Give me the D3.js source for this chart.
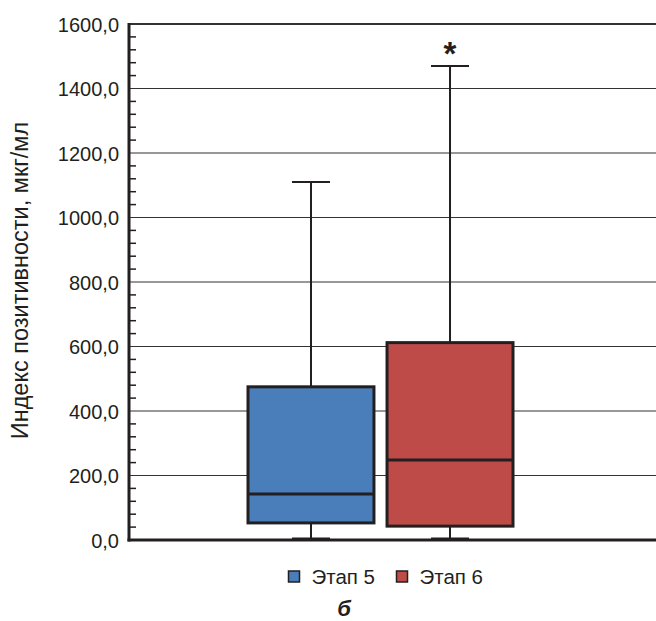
<!DOCTYPE html>
<html><head><meta charset="utf-8">
<script src="https://cdn.jsdelivr.net/npm/d3@7"></script>
<style>body{margin:0;background:#fff}svg{display:block}text{font-family:"Liberation Sans",Arial,sans-serif;fill:#231f20}</style>
</head><body><svg id="c" width="656" height="621"></svg>
<script>
const categories = ["Этап 5", "Этап 6"];
const mins = [5, 5];
const q1s = [53, 43];
const medians = [143, 248];
const q3s = [475, 612];
const maxs = [1110, 1470];
const colors = ["#4a7ebb", "#be4b48"];
const yTicks = [0, 200, 400, 600, 800, 1000, 1200, 1400, 1600];
const yLabel = "Индекс позитивности, мкг/мл";
const panelLabel = "б";
const marker = "*";
const markerIndex = 1;

const svg = d3.select("#c");
const L = 129, R = 656, T = 24, B = 540;
const y = d3.scaleLinear().domain([0, 1600]).range([B, T]);
const x = d3.scaleBand().domain(categories).range([248, 513]).paddingInner(0.094).paddingOuter(0);

// gridlines
svg.append("g").selectAll("line").data(yTicks.filter(d => d > 0)).join("line")
  .attr("x1", L).attr("x2", R).attr("y1", d => y(d)).attr("y2", d => y(d))
  .attr("stroke", "#333").attr("stroke-width", d => d === 1600 ? 2 : 1.2);

// minor ticks
const minor = d3.range(0, 1600, 40).filter(d => d % 200 !== 0);
svg.append("g").selectAll("line").data(minor).join("line")
  .attr("x1", L).attr("x2", L + 7).attr("y1", d => y(d)).attr("y2", d => y(d))
  .attr("stroke", "#231f20").attr("stroke-width", 1.5);

// y axis labels
svg.append("g").selectAll("text").data(yTicks).join("text")
  .attr("x", 119).attr("y", d => y(d) + 7.5).attr("text-anchor", "end")
  .attr("font-size", 20).text(d => d3.format(".1f")(d).replace(".", ","));

// boxes
const g = svg.append("g");
categories.forEach((c, i) => {
  const x0 = x(c), w = x.bandwidth(), cx = x0 + w / 2;
  g.append("line").attr("x1", cx).attr("x2", cx).attr("y1", y(maxs[i])).attr("y2", y(q3s[i]))
    .attr("stroke", "#231f20").attr("stroke-width", 2);
  g.append("line").attr("x1", cx).attr("x2", cx).attr("y1", y(q1s[i])).attr("y2", y(mins[i]))
    .attr("stroke", "#231f20").attr("stroke-width", 2);
  g.append("line").attr("x1", cx - 19).attr("x2", cx + 19).attr("y1", y(maxs[i])).attr("y2", y(maxs[i]))
    .attr("stroke", "#231f20").attr("stroke-width", 2);
  g.append("line").attr("x1", cx - 19).attr("x2", cx + 19).attr("y1", y(mins[i])).attr("y2", y(mins[i]))
    .attr("stroke", "#231f20").attr("stroke-width", 2);
  g.append("rect").attr("x", x0).attr("width", w).attr("y", y(q3s[i])).attr("height", y(q1s[i]) - y(q3s[i]))
    .attr("fill", colors[i]).attr("stroke", "#231f20").attr("stroke-width", 3);
  g.append("line").attr("x1", x0).attr("x2", x0 + w).attr("y1", y(medians[i])).attr("y2", y(medians[i]))
    .attr("stroke", "#231f20").attr("stroke-width", 3);
});
// significance marker
{
  const c = categories[markerIndex];
  svg.append("text").attr("x", x(c) + x.bandwidth() / 2).attr("y", y(maxs[markerIndex]) - 1)
    .attr("text-anchor", "middle").attr("font-size", 33).attr("font-weight", "bold").text(marker);
}

// axes lines
svg.append("line").attr("x1", L).attr("x2", L).attr("y1", T - 1).attr("y2", B + 1.5)
  .attr("stroke", "#231f20").attr("stroke-width", 3);
svg.append("line").attr("x1", L - 1.5).attr("x2", R).attr("y1", B).attr("y2", B)
  .attr("stroke", "#231f20").attr("stroke-width", 3);

// y label
svg.append("text").attr("transform", `translate(28,280.5) rotate(-90)`)
  .attr("text-anchor", "middle").attr("font-size", 23.5).text(yLabel);

// legend
const lg = svg.append("g");
const lx = [288.5, 396.5];
categories.forEach((c, i) => {
  lg.append("rect").attr("x", lx[i]).attr("y", 571).attr("width", 11).attr("height", 11)
    .attr("fill", colors[i]).attr("stroke", "#231f20").attr("stroke-width", 1.5);
  lg.append("text").attr("x", lx[i] + 23).attr("y", 584).attr("font-size", 20.5).text(c);
});
svg.append("text").attr("x", 344).attr("y", 616).attr("text-anchor", "middle")
  .attr("font-size", 22).attr("font-weight", "bold").attr("font-style", "italic").text(panelLabel);
</script></body></html>
